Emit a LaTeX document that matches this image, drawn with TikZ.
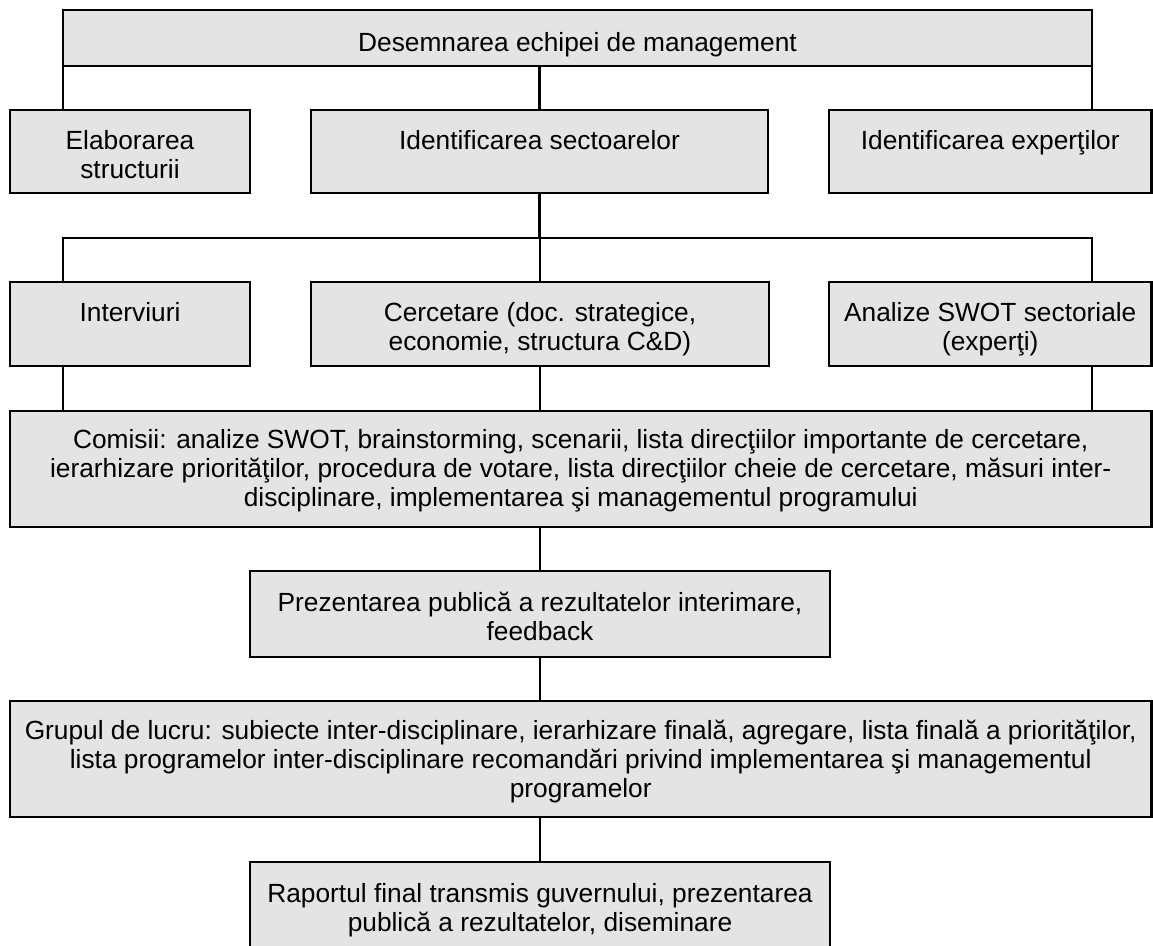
\documentclass[tikz,border=0pt]{standalone}
\usepackage{fontspec}
\setmainfont{Liberation Sans}
\usepackage{xcolor}
\usepackage{tikz}
\definecolor{boxfill}{RGB}{228, 228, 228}

\begin{document}
\begin{tikzpicture}[
    x=0.5pt, y=-0.5pt,
    stage/.style={rectangle, draw=black, fill=boxfill, line width=1.4pt, outer sep=0pt, inner sep=0pt, align=center, font=\fontsize{13.15}{14.5}\selectfont},
    link/.style={line width=1.4pt}
]
    \useasboundingbox (0,0) rectangle (1153,946);

    \node[stage, minimum width=514.5pt, minimum height=28pt, text height=21pt, text depth=7pt] (team) at (577.5, 38) {Desemnarea echipei de management};

    \node[stage, minimum width=120pt, minimum height=41.5pt, text height=34.5pt, text depth=7pt] (struct) at (130, 151.5) {Elaborarea\\structurii};
    \node[stage, minimum width=228.5pt, minimum height=41.5pt, text height=20pt, text depth=21.5pt] (sectors) at (539.5, 151.5) {Identificarea sectoarelor};
    \node[stage, minimum width=161.25pt, minimum height=41.5pt, text height=20pt, text depth=21.5pt] (experts) at (990.25, 151.5) {Identificarea experţilor};

    \node[stage, minimum width=120pt, minimum height=42pt, text height=20pt, text depth=22pt] (interviews) at (130, 324) {Interviuri};
    \node[stage, minimum width=229pt, minimum height=42pt, text height=34.5pt, text depth=7.5pt] (research) at (540, 324) {Cercetare (doc. strategice,\\economie, structura C\&D)};
    \node[stage, minimum width=161.25pt, minimum height=42pt, text height=34.5pt, text depth=7.5pt] (swot) at (990.25, 324) {Analize SWOT sectoriale\\(experţi)};

    \node[stage, minimum width=570.75pt, minimum height=58pt, text height=48pt, text depth=10pt] (panels) at (580.75, 469) {Comisii: analize SWOT, brainstorming, scenarii, lista direcţiilor importante de cercetare,\\ierarhizare priorităţilor, procedura de votare, lista direcţiilor cheie de cercetare, măsuri inter-\\disciplinare, implementarea şi managementul programului};

    \node[stage, minimum width=290pt, minimum height=43pt, text height=35pt, text depth=8pt] (interim) at (540, 614) {Prezentarea publică a rezultatelor interimare,\\feedback};

    \node[stage, minimum width=570.75pt, minimum height=58pt, text height=48.5pt, text depth=9.5pt] (workgroup) at (580.75, 759) {Grupul de lucru: subiecte inter-disciplinare, ierarhizare finală, agregare, lista finală a priorităţilor,\\lista programelor inter-disciplinare recomandări privind implementarea şi managementul\\programelor};

    \node[stage, minimum width=290pt, minimum height=43pt, text height=35pt, text depth=8pt] (report) at (540, 905) {Raportul final transmis guvernului, prezentarea\\publică a rezultatelor, diseminare};

    \coordinate (bus) at (539.5, 238);

    \draw[link] (team.south west) -- (team.south west |- struct.north);
    \draw[link] (sectors.north |- team.south) -- (sectors.north);
    \draw[link] (team.south east) -- (team.south east |- experts.north);

    \draw[link] (sectors.south) -- (bus);
    \draw[link] (team.west |- interviews.north) -- (team.west |- bus) -- (team.east |- bus) -- (team.east |- swot.north);
    \draw[link] (research.north |- bus) -- (research.north);

    \draw[link] (team.west |- interviews.south) -- (team.west |- panels.north);
    \draw[link] (research.south) -- (research.south |- panels.north);
    \draw[link] (team.east |- swot.south) -- (team.east |- panels.north);

    \draw[link] (interim.north |- panels.south) -- (interim.north);
    \draw[link] (interim.south) -- (interim.south |- workgroup.north);
    \draw[link] (report.north |- workgroup.south) -- (report.north);
\end{tikzpicture}
\end{document}
